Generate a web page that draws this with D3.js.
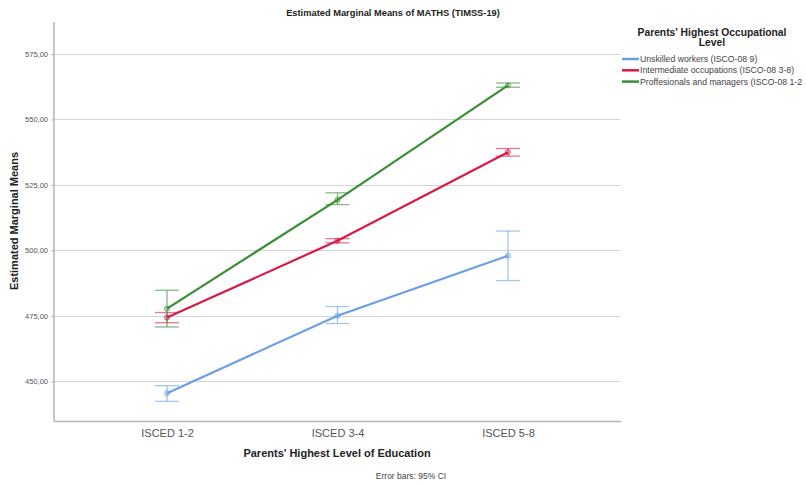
<!DOCTYPE html>
<html><head><meta charset="utf-8">
<script src="https://cdn.jsdelivr.net/npm/d3@7"></script>
<style>body{margin:0;background:#fff;font-family:"Liberation Sans",Arial,sans-serif}</style>
</head><body><svg id="c" width="806" height="485"></svg>
<script>
const categories = ["ISCED 1-2","ISCED 3-4","ISCED 5-8"];
const seriesNames = ["Unskilled workers (ISCO-08 9)","Intermediate occupations (ISCO-08 3-8)","Proffesionals and managers (ISCO-08 1-2"];
const seriesColors = ["#6a9fe8","#d91a45","#3a8c36"];
const unskilledMean = [445.5, 475.1, 498.0];
const unskilledLow  = [442.4, 472.1, 488.5];
const unskilledHigh = [448.4, 478.6, 507.4];
const intermediateMean = [474.4, 503.7, 537.5];
const intermediateLow  = [472.4, 502.9, 536.0];
const intermediateHigh = [476.3, 504.5, 538.9];
const professionalMean = [477.8, 519.3, 563.0];
const professionalLow  = [470.8, 517.5, 562.3];
const professionalHigh = [484.8, 522.0, 563.9];
const yTicks = [450, 475, 500, 525, 550, 575];

const series = [
  {name: seriesNames[0], color: seriesColors[0], mean: unskilledMean, lo: unskilledLow, hi: unskilledHigh},
  {name: seriesNames[1], color: seriesColors[1], mean: intermediateMean, lo: intermediateLow, hi: intermediateHigh},
  {name: seriesNames[2], color: seriesColors[2], mean: professionalMean, lo: professionalLow, hi: professionalHigh}
];

const svg = d3.select("#c");
const L = 54, R = 621, T = 22, B = 421.5;
const x = d3.scalePoint().domain(categories).range([L, R]).padding(0.663);
const y = d3.scaleLinear().domain([434.7, 587.2]).range([B, T]);

// gridlines
svg.append("g").selectAll("line").data(yTicks).join("line")
  .attr("x1", L).attr("x2", R - 1)
  .attr("y1", d => Math.round(y(d)) + 0.5).attr("y2", d => Math.round(y(d)) + 0.5)
  .attr("stroke", "#d4d4d4").attr("stroke-width", 1);

// y axis
const ya = svg.append("g").attr("transform", `translate(${L},0)`)
  .call(d3.axisLeft(y).tickValues(yTicks).tickSize(3).tickPadding(3).tickFormat(d => d3.format(".2f")(d).replace(".", ",")));
ya.select(".domain").attr("stroke", "#b5b5b5").attr("stroke-width", 1.5).attr("d", `M0,${T}V${B}`);
ya.selectAll(".tick line").attr("stroke", "#b5b5b5");
ya.selectAll(".tick text").attr("fill", "#555").style("font-size", "7.5px").style("font-family", "Liberation Sans, Arial, sans-serif");

// x axis
const xa = svg.append("g").attr("transform", `translate(0,${B})`)
  .call(d3.axisBottom(x).tickSize(0).tickPadding(8));
xa.select(".domain").attr("stroke", "#b5b5b5").attr("stroke-width", 1.5).attr("d", `M${L},0H${R}`);
xa.selectAll(".tick text").attr("fill", "#555").style("font-size", "11px").style("font-family", "Liberation Sans, Arial, sans-serif");

// series
const line = d3.line().x((d, i) => x(categories[i])).y(d => y(d));
series.forEach(s => {
  const g = svg.append("g");
  categories.forEach((c, i) => {
    const cx = x(c);
    g.append("line").attr("x1", cx).attr("x2", cx).attr("y1", y(s.lo[i])).attr("y2", y(s.hi[i]))
      .attr("stroke", s.color).attr("stroke-opacity", 0.6).attr("stroke-width", 1.3);
    [s.lo[i], s.hi[i]].forEach(v => {
      g.append("line").attr("x1", cx - 12).attr("x2", cx + 12).attr("y1", y(v)).attr("y2", y(v))
        .attr("stroke", s.color).attr("stroke-opacity", 0.6).attr("stroke-width", 1.3);
    });
  });
  g.append("path").datum(s.mean).attr("d", line).attr("fill", "none")
    .attr("stroke", s.color).attr("stroke-width", 2.2);
  g.selectAll("circle").data(s.mean).join("circle")
    .attr("cx", (d, i) => x(categories[i])).attr("cy", d => y(d)).attr("r", 2.6)
    .attr("fill", s.color).attr("fill-opacity", 0.3).attr("stroke", s.color).attr("stroke-opacity", 0.6).attr("stroke-width", 1);
});

// titles
svg.append("text").attr("x", 393).attr("y", 15.5).attr("text-anchor", "middle")
  .style("font-size", "9.3px").style("font-weight", "bold").attr("fill", "#222")
  .text("Estimated Marginal Means of MATHS (TIMSS-19)");
svg.append("text").attr("transform", `translate(17.5,221) rotate(-90)`).attr("text-anchor", "middle")
  .style("font-size", "11px").style("font-weight", "bold").attr("fill", "#222")
  .text("Estimated Marginal Means");
svg.append("text").attr("x", 337).attr("y", 457).attr("text-anchor", "middle")
  .style("font-size", "11px").style("font-weight", "bold").attr("fill", "#222")
  .text("Parents' Highest Level of Education");
svg.append("text").attr("x", 411).attr("y", 479).attr("text-anchor", "middle")
  .style("font-size", "8.5px").attr("fill", "#444")
  .text("Error bars: 95% CI");

// legend
const lg = svg.append("g");
lg.append("text").attr("x", 712).attr("y", 36).attr("text-anchor", "middle")
  .style("font-size", "10.3px").style("font-weight", "bold").attr("fill", "#222").text("Parents' Highest Occupational");
lg.append("text").attr("x", 712).attr("y", 46).attr("text-anchor", "middle")
  .style("font-size", "10.3px").style("font-weight", "bold").attr("fill", "#222").text("Level");
const li = lg.selectAll("g.it").data(series).join("g").attr("class", "it")
  .attr("transform", (d, i) => `translate(622,${59 + i * 11.3})`);
li.append("line").attr("x1", 0).attr("x2", 17).attr("stroke", d => d.color).attr("stroke-width", 2.5);
li.append("text").attr("x", 18).attr("y", 3).style("font-size", "8.7px").attr("fill", "#444").text(d => d.name);
</script></body></html>
